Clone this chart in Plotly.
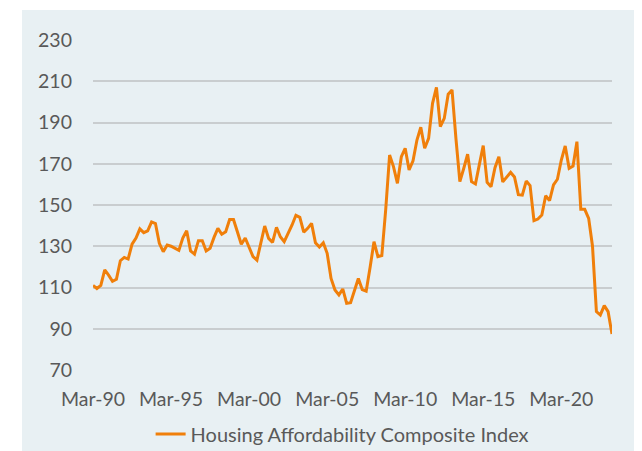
"""Housing Affordability Composite Index, quarterly line chart."""

import pandas as pd
import plotly.graph_objects as go

# quarterly readings, Mar-1990 .. Jun-2023
quarters = pd.date_range("1990-03-31", periods=134, freq="QE")
hai_values = [
    111.0, 109.5, 111.0, 118.5, 116.0, 113.0, 114.0, 123.0, 124.6, 123.8,
    131.0, 134.0, 138.4, 136.6, 137.5, 141.8, 141.0, 131.4, 127.4, 130.6,
    130.0, 129.0, 128.0, 134.0, 137.5, 127.7, 126.2, 132.7, 132.7, 127.7,
    129.0, 134.3, 138.7, 135.8, 137.0, 143.0, 143.0, 137.0, 131.0, 134.0,
    129.5, 125.0, 123.3, 131.4, 139.8, 133.8, 131.9, 139.2, 134.6, 132.2,
    136.0, 140.3, 145.0, 144.0, 136.8, 138.7, 141.1, 131.7, 129.6, 131.7,
    126.6, 114.4, 108.8, 106.4, 109.3, 102.3, 102.6, 108.8, 114.4, 109.0,
    108.2, 119.8, 132.2, 125.0, 125.5, 148.0, 174.2, 168.6, 160.5, 173.4,
    177.5, 167.0, 171.4, 181.5, 187.7, 177.5, 182.3, 199.3, 207.0, 188.0,
    192.0, 203.7, 205.8, 182.3, 161.3, 167.8, 174.6, 161.3, 160.2, 169.7,
    178.8, 161.0, 158.9, 168.1, 173.4, 161.2, 163.6, 165.8, 163.6, 155.0,
    154.8, 161.6, 159.4, 142.4, 143.2, 145.1, 154.5, 152.1, 159.7, 162.5,
    171.8, 178.6, 167.8, 168.9, 180.7, 147.9, 147.9, 143.5, 130.0, 98.3,
    96.7, 101.2, 98.3, 87.5,
]
series_name = "Housing Affordability Composite Index"
y_ticks = [70, 90, 110, 130, 150, 170, 190, 210, 230]

_LINE_COLOR = "#F07F0A"
_PANEL_COLOR = "#E8F0F3"
_GRID_COLOR = "#C9CDCF"
_TEXT_COLOR = "#595959"

fig = go.Figure()
fig.add_trace(
    go.Scatter(
        x=quarters,
        y=hai_values,
        name=series_name,
        mode="lines",
        line=dict(color=_LINE_COLOR, width=3),
    )
)

# white strips above and left of the light panel (outside the plot area)
fig.add_shape(
    type="rect", xref="paper", yref="paper",
    x0=-0.3, x1=1.2, y0=1 + 30 / 330, y1=1.3,
    fillcolor="white", line_width=0, layer="above",
)
fig.add_shape(
    type="rect", xref="paper", yref="paper",
    x0=-0.3, x1=-71 / 519, y0=-0.4, y1=1.3,
    fillcolor="white", line_width=0, layer="above",
)

# page body adds an 8px offset, so the figure is 8px smaller each way
fig.update_layout(
    width=634,
    height=443,
    margin=dict(l=85, r=30, t=32, b=81, autoexpand=False),
    paper_bgcolor=_PANEL_COLOR,
    plot_bgcolor=_PANEL_COLOR,
    font=dict(family="Lato, 'Open Sans', sans-serif", size=19.5, color=_TEXT_COLOR),
    showlegend=True,
    legend=dict(
        orientation="h", x=0.48, xanchor="center",
        yref="container", y=17 / 443, yanchor="middle",
        bgcolor="rgba(0,0,0,0)", font=dict(size=20, color=_TEXT_COLOR),
    ),
    xaxis=dict(
        range=[quarters[0], quarters[-1]],
        tickvals=quarters[::20],
        tickformat="%b-%y",
        showgrid=False,
        zeroline=False,
        showline=False,
        ticks="",
        ticklabelstandoff=15,
    ),
    yaxis=dict(
        range=[70, 230],
        tickvals=y_ticks,
        showgrid=True,
        gridcolor=_GRID_COLOR,
        gridwidth=2,
        zeroline=False,
        showline=False,
        ticks="",
        ticklabelstandoff=20,
    ),
)

fig.write_html("out.html")
